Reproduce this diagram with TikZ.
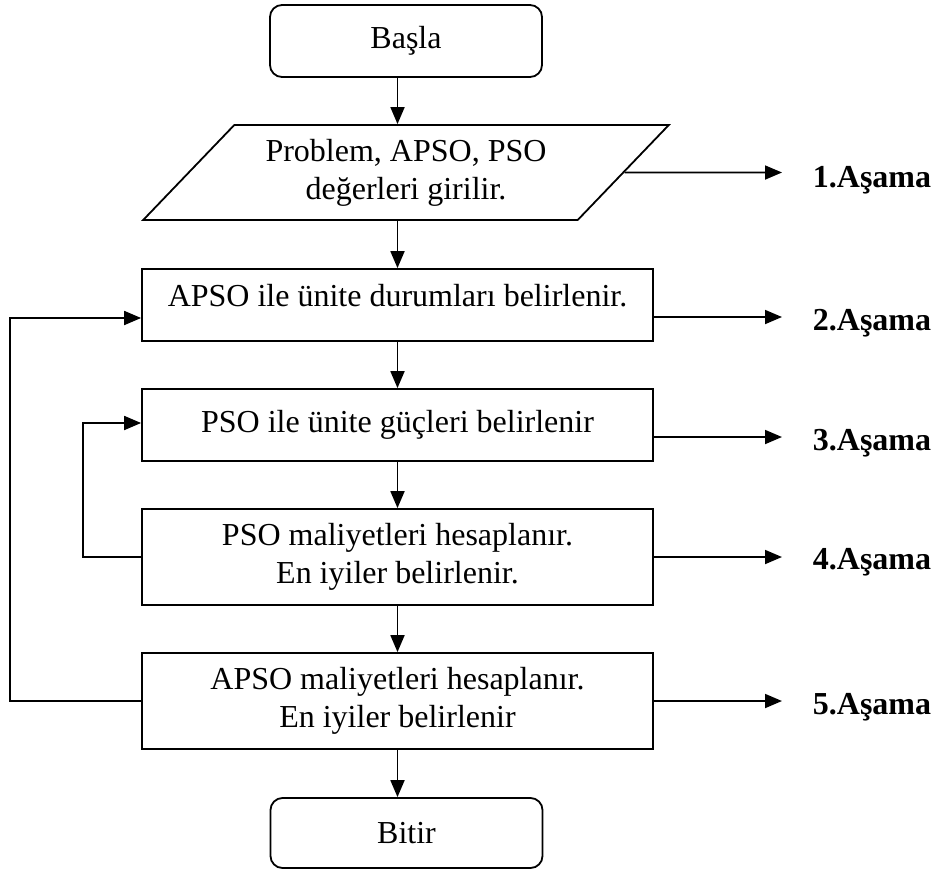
\documentclass[tikz,border=0pt]{standalone}
\usepackage{fontspec}
\setmainfont{Liberation Serif}
\usetikzlibrary{shapes.geometric,arrows.meta}
\begin{document}
\begin{tikzpicture}[x=0.5pt,y=-0.5pt,line width=0.9pt]
    \tikzstyle{every node}+=[inner sep=0pt, font=\fontsize{16}{19}\selectfont]
    \tikzstyle{term}=[draw, rounded corners=6pt, minimum width=136pt, minimum height=36pt]
    \tikzstyle{para}=[draw, trapezium, trapezium left angle=42, trapezium right angle=138, trapezium stretches=true, minimum width=263.5pt, minimum height=47.5pt, align=center]
    \tikzstyle{box}=[draw, minimum width=255.5pt, align=center]
    \tikzstyle{stage}=[anchor=west, font=\fontsize{16}{19}\selectfont\bfseries]
    \tikzstyle{arr}=[-{Triangle[length=8.5pt,width=7pt]}]
    \useasboundingbox (0,0) rectangle (933,873);
    \node [term] (start) at (406,41) {Başla};
    \node [para] (input) at (406,172.5) {Problem, APSO, PSO\\değerleri girilir.};
    \node [box, minimum height=36pt, text depth=10pt] (b2) at (397.5,305) {APSO ile ünite durumları belirlenir.};
    \node [box, minimum height=36pt] (b3) at (397.5,425) {PSO ile ünite güçleri belirlenir};
    \node [box, minimum height=48pt] (b4) at (397.5,557) {PSO maliyetleri hesaplanır.\\En iyiler belirlenir.};
    \node [box, minimum height=48pt] (b5) at (397.5,701) {APSO maliyetleri hesaplanır.\\En iyiler belirlenir};
    \node [term, minimum height=35pt] (end) at (406.5,833) {Bitir};
    \node [stage] (s1) at (812,180) {1.Aşama};
    \node [stage] (s2) at (812,323) {2.Aşama};
    \node [stage] (s3) at (812,443) {3.Aşama};
    \node [stage] (s4) at (812,562) {4.Aşama};
    \node [stage] (s5) at (812,707) {5.Aşama};
    \coordinate (e1) at (782,172.5);
    \coordinate (e2) at (782,317);
    \coordinate (e3) at (782,437);
    \coordinate (e4) at (782,557);
    \coordinate (e5) at (782,701);
    \coordinate (l2) at (10,318);
    \coordinate (l3) at (83,423);
    % main flow
    \draw [arr] (start.south -| b2.north) -- (input.north -| b2.north);
    \draw [arr] (input.south -| b2.north) -- (b2.north);
    \draw [arr] (b2.south) -- (b3.north);
    \draw [arr] (b3.south) -- (b4.north);
    \draw [arr] (b4.south) -- (b5.north);
    \draw [arr] (b5.south) -- (end.north -| b5.south);
    % stages
    \draw [arr] (input.east) -- (e1);
    \draw [arr] (e2 -| b2.east) -- (e2);
    \draw [arr] (e3 -| b3.east) -- (e3);
    \draw [arr] (e4 -| b4.east) -- (e4);
    \draw [arr] (e5 -| b5.east) -- (e5);
    % loops
    \draw [arr] (b5.west) -| (l2) -- (l2 -| b2.west);
    \draw [arr] (b4.west) -| (l3) -- (l3 -| b3.west);
\end{tikzpicture}
\end{document}
